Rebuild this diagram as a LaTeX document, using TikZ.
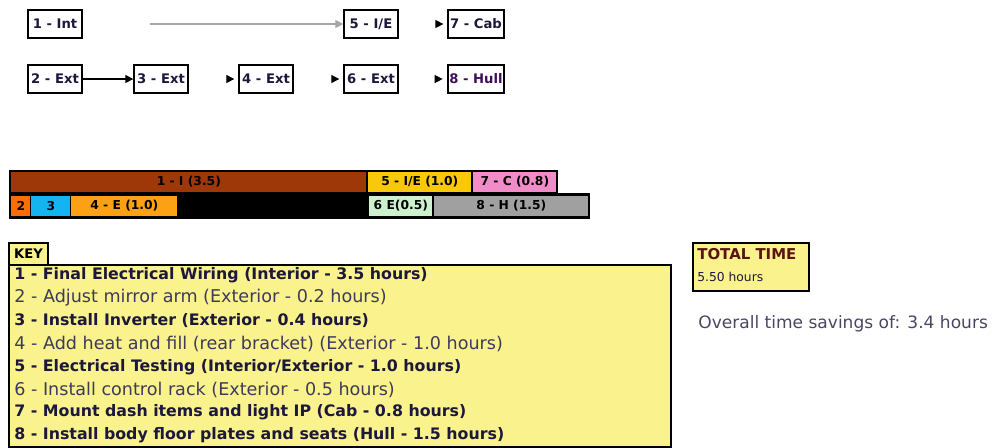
\documentclass[tikz,border=0pt]{standalone}
\usepackage{fontspec}
\setmainfont{DejaVu Sans}
\usepackage{tikz}
\usetikzlibrary{arrows.meta, positioning}
\definecolor{KeyYellow}{RGB}{250, 242, 140}
\definecolor{BarBrown}{RGB}{158, 56, 8}
\definecolor{BarGold}{RGB}{250, 200, 10}
\definecolor{BarPink}{RGB}{242, 140, 200}
\definecolor{BarOrange}{RGB}{250, 110, 10}
\definecolor{BarCyan}{RGB}{20, 180, 240}
\definecolor{BarAmber}{RGB}{252, 160, 20}
\definecolor{BarMint}{RGB}{205, 240, 205}
\definecolor{BarGrey}{RGB}{160, 160, 160}
\definecolor{InkNavy}{RGB}{28, 24, 60}
\definecolor{InkRed}{RGB}{90, 20, 20}

\begin{document}
\begin{tikzpicture}[x=0.02cm, y=-0.02cm, font=\bfseries\fontsize{7.5}{9}\selectfont,
  task/.style={draw=black, line width=1.1pt, fill=white, minimum width=1.07cm, minimum height=0.56cm, inner sep=1pt, text=InkNavy},
  cell/.style={inner sep=0pt, minimum height=0.4cm, anchor=west, text=black, font=\bfseries\fontsize{7}{8}\selectfont},
  keyline/.style={anchor=west, inner sep=0pt, text=InkNavy, font=\bfseries\fontsize{9}{10}\selectfont},
  keysoft/.style={keyline, text=InkNavy!85, font=\fontsize{10}{11}\selectfont},
  panel/.style={draw=black, line width=1.1pt, fill=KeyYellow, anchor=north west, inner sep=0pt},
  ar/.style={-{Triangle[length=1.6mm, width=1.6mm]}, line width=0.8pt}]
\useasboundingbox (0,0) rectangle (1000,447);
% precedence network
\node[task] (t1) at (55,24) {1 - Int};
\node[task] (t5) at (371,24) {5 - I/E};
\node[task] (t7) at (476,24) {7 - Cab};
\node[task] (t2) at (55,79) {2 - Ext};
\node[task] (t3) at (161,79) {3 - Ext};
\node[task] (t4) at (266,79) {4 - Ext};
\node[task] (t6) at (371,79) {6 - Ext};
\node[task, text=InkRed!70!blue] (t8) at (476,79) {8 - Hull};
\coordinate (s5) at (150,24);
\draw[ar, gray!70] (s5) -- (t5.west);
\draw[ar] (t2) -- (t3);
\draw[ar] ([xshift=-0.2cm]t7.west) -- ([xshift=-0.08cm]t7.west);
\draw[ar] ([xshift=-0.2cm]t4.west) -- ([xshift=-0.08cm]t4.west);
\draw[ar] ([xshift=-0.2cm]t6.west) -- ([xshift=-0.08cm]t6.west);
\draw[ar] ([xshift=-0.2cm]t8.west) -- ([xshift=-0.08cm]t8.west);
% time bars
\fill[black] (9,170) rectangle (558,194);
\fill[black] (9,193) rectangle (590,219);
\node[cell, fill=BarBrown, minimum width=7.1cm] (b1) at (11,182) {1 - I (3.5)};
\node[cell, fill=BarGold, minimum width=2.06cm] (b5) at (368,182) {5 - I/E (1.0)};
\node[cell, fill=BarPink, minimum width=1.66cm] (b7) at (473,182) {7 - C (0.8)};
\node[cell, fill=BarOrange, minimum width=0.38cm] (b2) at (11,206) {2};
\node[cell, fill=BarCyan, minimum width=0.78cm] (b3) at (31,206) {3};
\node[cell, fill=BarAmber, minimum width=2.12cm] (b4) at (71,206) {4 - E (1.0)};
\node[cell, fill=BarMint, minimum width=1.26cm] (b6) at (369,206) {6 E(0.5)};
\node[cell, fill=BarGrey, minimum width=3.08cm] (b8) at (434,206) {8 - H (1.5)};
% key
\node[panel, minimum width=0.78cm, minimum height=0.44cm] (keyhead) at (8,242) {KEY};
\node[panel, minimum width=13.24cm, minimum height=3.64cm] (keybox) at (8,264) {};
\node[keyline] (k1) at (14,275) {1 - Final Electrical Wiring (Interior - 3.5 hours)};
\node[keysoft] (k2) at (14,298) {2 - Adjust mirror arm (Exterior - 0.2 hours)};
\node[keyline] (k3) at (14,321) {3 - Install Inverter (Exterior - 0.4 hours)};
\node[keysoft] (k4) at (14,344) {4 - Add heat and fill (rear bracket) (Exterior - 1.0 hours)};
\node[keyline] (k5) at (14,367) {5 - Electrical Testing (Interior/Exterior - 1.0 hours)};
\node[keysoft] (k6) at (14,390) {6 - Install control rack (Exterior - 0.5 hours)};
\node[keyline] (k7) at (14,412) {7 - Mount dash items and light IP (Cab - 0.8 hours)};
\node[keyline] (k8) at (14,435) {8 - Install body floor plates and seats (Hull - 1.5 hours)};
% totals
\node[panel, minimum width=2.32cm, minimum height=0.96cm] (total) at (692,242) {};
\node[anchor=west, inner sep=0pt, text=InkRed, font=\bfseries\fontsize{8.5}{10}\selectfont] (totlbl) at (697,254) {TOTAL TIME};
\node[anchor=west, inner sep=0pt, text=InkNavy, font=\fontsize{7}{8}\selectfont] (totval) at (697,277) {5.50 hours};
\node[anchor=west, inner sep=0pt, text=InkNavy!80, font=\fontsize{9.7}{10}\selectfont] (saving) at (698,324) {Overall time savings of: 3.4 hours};
\end{tikzpicture}
\end{document}
